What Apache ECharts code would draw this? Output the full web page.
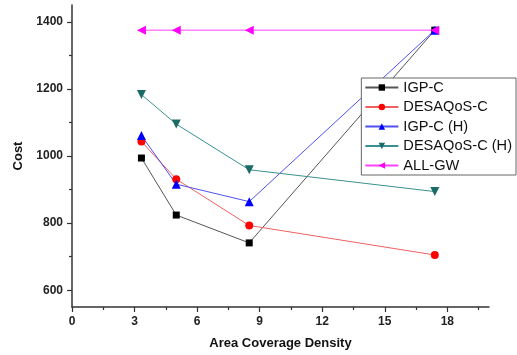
<!DOCTYPE html>
<html>
<head>
<meta charset="utf-8">
<script src="https://cdn.jsdelivr.net/npm/echarts@6/dist/echarts.min.js"></script>
<style>html,body{margin:0;padding:0;background:#fff}#c{width:517px;height:355px}</style>
</head>
<body>
<div id="c"></div>
<script>
var xValues = [3.33, 5, 8.5, 17.4];
var seriesNames = ['IGP-C', 'DESAQoS-C', 'IGP-C (H)', 'DESAQoS-C (H)', 'ALL-GW'];
var igpC = [994, 824, 741, 1375];
var desaqosC = [1043, 931, 793, 705];
var igpCH = [1061, 916, 864, 1375];
var desaqosCH = [1183, 1095, 959, 894];
var allGW = [1375, 1375, 1375, 1375];
var xTickLabels = [0, 3, 6, 9, 12, 15, 18];
var xMinorTicks = [1.5, 4.5, 7.5, 10.5, 13.5, 16.5, 19.5];
var yTickLabels = [600, 800, 1000, 1200, 1400];
var yMinorTicks = [700, 900, 1100, 1300];

function pairs(ys) { return xValues.map(function (x, i) { return [x, ys[i]]; }); }

var font = 'Liberation Sans, Arial, sans-serif';
var axisColor = '#333';
function plain(v) { return String(v); }

function mk(name, data, lineColor, markColor, symbol, size, rotate) {
  return {
    name: name, type: 'line', data: pairs(data),
    symbol: symbol, symbolSize: size, symbolRotate: rotate || 0,
    lineStyle: { color: lineColor, width: 1 },
    itemStyle: { color: markColor },
    emphasis: { disabled: true },
    animation: false
  };
}

var chart = echarts.init(document.getElementById('c'));
chart.setOption({
  animation: false,
  grid: { left: 72, right: 28, top: 5, bottom: 48, containLabel: false },
  legend: {
    orient: 'vertical', right: 1, top: 78,
    data: seriesNames,
    backgroundColor: '#fff', borderColor: '#666', borderWidth: 1,
    padding: [2, 4, 2, 3], itemGap: 4.5, itemWidth: 33, itemHeight: 8,
    textStyle: { fontFamily: font, fontSize: 14.6, color: '#111' },
    z: 10
  },
  xAxis: [{
    type: 'value', min: 0, max: 20,
    name: 'Area Coverage Density', nameLocation: 'middle', nameGap: 30,
    nameTextStyle: { fontFamily: font, fontSize: 13, fontWeight: 'bold', color: '#111' },
    axisLine: { show: true, onZero: false, lineStyle: { color: axisColor, width: 1.5 } },
    axisTick: { show: true, customValues: xTickLabels, length: 5, lineStyle: { color: axisColor, width: 1.2 } },
    axisLabel: { customValues: xTickLabels, formatter: plain, margin: 9, fontFamily: font, fontSize: 12, fontWeight: 'bold', color: '#222' },
    splitLine: { show: false }
  }, {
    type: 'value', min: 0, max: 20, position: 'bottom',
    axisLine: { show: false },
    axisTick: { show: true, customValues: xMinorTicks, length: 3, lineStyle: { color: axisColor, width: 1.2 } },
    axisLabel: { show: false },
    splitLine: { show: false }
  }],
  yAxis: [{
    type: 'value', min: 550, max: 1450,
    name: 'Cost', nameLocation: 'middle', nameGap: 33,
    nameTextStyle: { fontFamily: font, fontSize: 13, fontWeight: 'bold', color: '#111' },
    axisLine: { show: true, onZero: false, lineStyle: { color: axisColor, width: 1.5 } },
    axisTick: { show: true, customValues: yTickLabels, length: 5, lineStyle: { color: axisColor, width: 1.2 } },
    axisLabel: { customValues: yTickLabels, formatter: plain, margin: 9, fontFamily: font, fontSize: 12, fontWeight: 'bold', color: '#222' },
    splitLine: { show: false }
  }, {
    type: 'value', min: 550, max: 1450, position: 'left',
    axisLine: { show: false },
    axisTick: { show: true, customValues: yMinorTicks, length: 3, lineStyle: { color: axisColor, width: 1.2 } },
    axisLabel: { show: false },
    splitLine: { show: false }
  }],
  series: [
    mk(seriesNames[0], igpC, '#555555', '#000000', 'rect', 7),
    mk(seriesNames[1], desaqosC, '#f06060', '#ff0000', 'circle', 8),
    mk(seriesNames[2], igpCH, '#5050f0', '#0000ff', 'triangle', 9),
    mk(seriesNames[3], desaqosCH, '#3a9090', '#1a6b66', 'triangle', 9, 180),
    mk(seriesNames[4], allGW, '#ff40ff', '#ff00ff', 'triangle', 9, 90)
  ]
});
</script>
</body>
</html>
